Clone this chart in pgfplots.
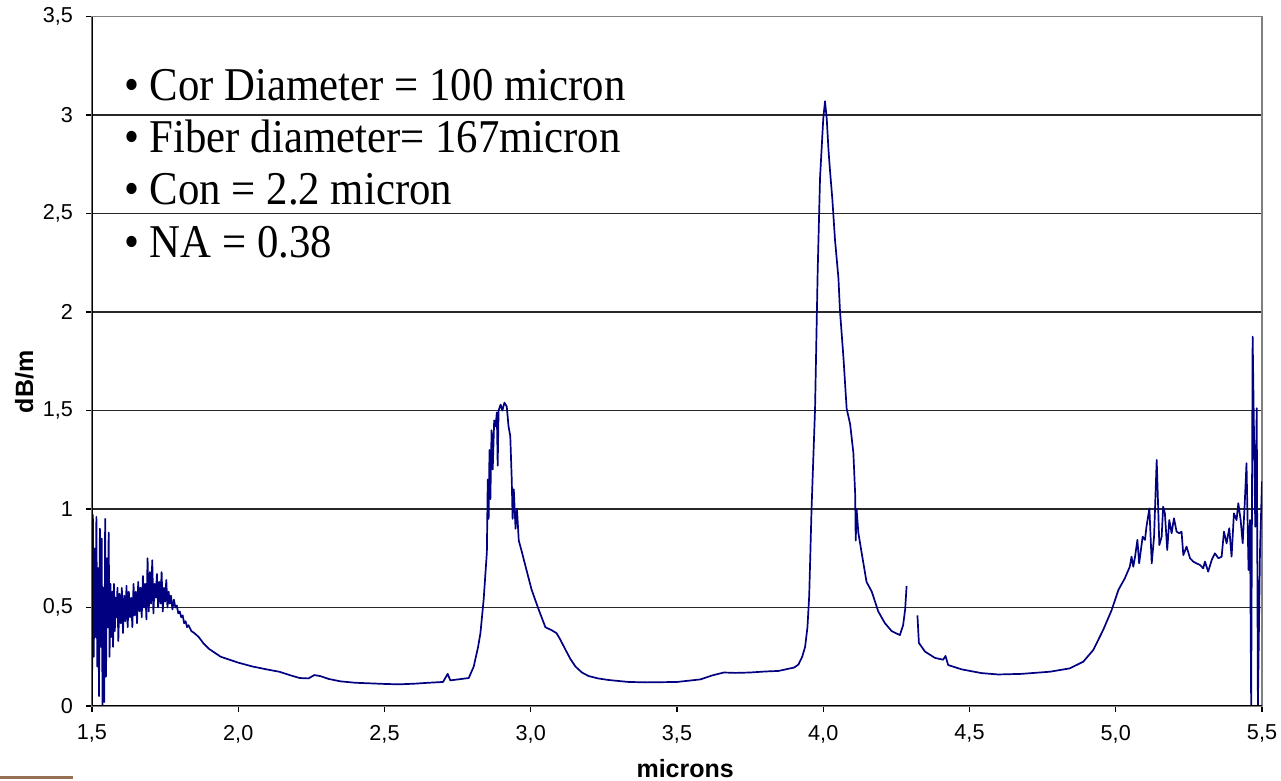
\documentclass[border=0pt]{standalone}
\usepackage{pgfplots}
\pgfplotsset{compat=1.18}
\usepackage{fontspec}
\setmainfont{Liberation Sans}
\newfontfamily\tnr[FakeStretch=0.91]{Liberation Serif}
\definecolor{navyline}{RGB}{0,0,128}
\definecolor{gridc}{RGB}{40,40,40}
\definecolor{brownbar}{RGB}{150,112,84}
\begin{document}
\begin{tikzpicture}
\useasboundingbox (-46pt,-37.5pt) rectangle (594.5pt,353pt);
\begin{axis}[at={(0,0)}, anchor=south west, scale only axis,
  width=585pt, height=344.75pt,
  xmin=1.5, xmax=5.5, ymin=0, ymax=3.5,
  xtick={1.5,2.0,2.5,3.0,3.5,4.0,4.5,5.0,5.5},
  xticklabels={{1,5},{2,0},{2,5},{3,0},{3,5},{4,0},{4,5},{5,0},{5,5}},
  ytick={0,0.5,1,1.5,2,2.5,3,3.5},
  yticklabels={0,{0,5},1,{1,5},2,{2,5},3,{3,5}},
  ymajorgrids, major grid style={gridc, line width=0.6pt},
  axis line style={draw=gray, line width=0.8pt},
  tick align=outside, xtick pos=left, ytick pos=left,
  major tick length=3pt, tick style={black, line width=0.6pt},
  tick label style={font=\fontsize{10.8}{13}\selectfont},
  xticklabel style={yshift=-3pt},
  yticklabel style={xshift=-3pt},
  xlabel={microns}, ylabel={dB/m},
  every axis x label/.style={at={(axis description cs:0.507,-0.1044)}, anchor=base, font=\bfseries\fontsize{12.5}{15}\selectfont},
  every axis y label/.style={at={(axis description cs:-0.0504,0.47)}, rotate=90, anchor=base, font=\bfseries\fontsize{12.5}{15}\selectfont},
  clip=true]
\addplot[navyline, line width=0.85pt, line join=round] coordinates {
(1.500,0.02)(1.503,0.97)(1.506,0.25)(1.509,0.80)(1.512,0.35)(1.515,0.96)(1.518,0.20)(1.521,0.70)
(1.524,0.05)(1.527,0.90)(1.530,0.30)(1.533,0.85)(1.536,0.00)(1.539,0.60)(1.542,0.02)(1.545,0.95)
(1.548,0.15)(1.551,0.75)(1.554,0.40)(1.557,0.88)(1.560,0.25)(1.563,0.62)(1.566,0.35)(1.569,0.58)
(1.572,0.30)(1.575,0.62)(1.578,0.38)(1.581,0.55)(1.584,0.45)(1.587,0.60)(1.590,0.33)(1.594,0.57)
(1.598,0.42)(1.602,0.60)(1.606,0.37)(1.610,0.56)(1.614,0.43)(1.618,0.61)(1.622,0.40)(1.626,0.58)
(1.630,0.45)(1.634,0.55)(1.638,0.40)(1.642,0.62)(1.646,0.46)(1.650,0.58)(1.654,0.42)(1.658,0.63)
(1.662,0.48)(1.666,0.60)(1.670,0.45)(1.674,0.66)(1.678,0.50)(1.682,0.62)(1.686,0.44)(1.690,0.75)
(1.694,0.48)(1.698,0.68)(1.702,0.52)(1.706,0.74)(1.710,0.47)(1.714,0.62)(1.718,0.55)(1.722,0.67)
(1.726,0.50)(1.730,0.63)(1.734,0.52)(1.738,0.68)(1.742,0.48)(1.746,0.60)(1.750,0.53)(1.754,0.64)
(1.758,0.50)(1.762,0.58)(1.766,0.52)(1.770,0.56)(1.775,0.49)(1.780,0.54)(1.785,0.50)(1.790,0.51)
(1.795,0.47)(1.800,0.48)(1.805,0.45)(1.810,0.46)(1.815,0.42)(1.820,0.43)(1.825,0.40)(1.830,0.41)
(1.840,0.38)(1.850,0.37)(1.865,0.35)(1.880,0.32)(1.900,0.29)(1.920,0.27)(1.940,0.25)(1.960,0.24)
(1.980,0.23)(2.000,0.22)(2.050,0.20)(2.100,0.185)(2.140,0.174)(2.180,0.155)(2.210,0.142)(2.240,0.140)
(2.260,0.157)(2.280,0.152)(2.310,0.137)(2.350,0.125)(2.400,0.118)(2.450,0.115)(2.500,0.112)(2.550,0.110)
(2.600,0.113)(2.651,0.118)(2.700,0.122)(2.716,0.163)(2.725,0.130)(2.788,0.142)(2.805,0.20)(2.820,0.30)
(2.828,0.37)(2.839,0.54)(2.850,0.78)(2.853,1.15)(2.856,0.95)(2.859,1.30)(2.862,1.05)(2.866,1.40)
(2.870,1.20)(2.875,1.45)(2.880,1.42)(2.884,1.49)(2.887,1.22)(2.890,1.50)(2.897,1.53)(2.903,1.50)
(2.910,1.54)(2.918,1.52)(2.924,1.42)(2.930,1.37)(2.935,1.15)(2.938,0.95)(2.942,1.10)(2.948,0.90)
(2.953,1.00)(2.959,0.84)(2.970,0.78)(2.982,0.71)(3.003,0.59)(3.027,0.49)(3.050,0.40)(3.071,0.385)
(3.088,0.37)(3.100,0.34)(3.119,0.285)(3.135,0.24)(3.153,0.20)(3.175,0.17)(3.198,0.152)(3.230,0.14)
(3.266,0.132)(3.334,0.122)(3.400,0.120)(3.500,0.122)(3.580,0.135)(3.620,0.155)(3.660,0.170)
(3.700,0.168)(3.750,0.170)(3.800,0.175)(3.847,0.178)(3.900,0.195)(3.915,0.21)(3.928,0.25)(3.938,0.30)
(3.946,0.40)(3.952,0.56)(3.960,1.00)(3.972,1.51)(3.981,2.21)(3.989,2.68)(4.000,2.98)(4.006,3.07)
(4.012,2.98)(4.018,2.82)(4.023,2.72)(4.031,2.575)(4.040,2.37)(4.052,2.17)(4.057,2.01)(4.069,1.77)
(4.080,1.51)(4.092,1.43)(4.103,1.285)(4.109,1.08)(4.111,0.84)(4.114,1.00)(4.120,0.88)(4.131,0.78)
(4.148,0.63)(4.166,0.58)(4.188,0.48)(4.211,0.42)(4.234,0.38)(4.262,0.36)(4.273,0.41)(4.280,0.49)
(4.285,0.61)
};
\addplot[navyline, line width=0.85pt, line join=round] coordinates {
(4.322,0.46)(4.327,0.32)(4.348,0.276)(4.382,0.244)(4.410,0.235)(4.418,0.254)(4.427,0.208)(4.473,0.186)
(4.541,0.167)(4.598,0.160)(4.677,0.163)(4.775,0.174)(4.843,0.191)(4.889,0.225)(4.923,0.284)(4.957,0.386)
(4.986,0.487)(5.009,0.589)(5.031,0.648)(5.048,0.707)(5.054,0.758)(5.060,0.707)(5.066,0.758)(5.074,0.843)
(5.080,0.724)(5.092,0.860)(5.100,0.843)(5.105,0.910)(5.115,1.003)(5.123,0.724)(5.131,0.860)(5.140,1.249)
(5.149,0.817)(5.157,0.860)(5.162,1.012)(5.168,0.978)(5.176,0.792)(5.183,0.944)(5.191,0.877)(5.199,0.953)
(5.208,0.885)(5.217,0.877)(5.225,0.885)(5.231,0.766)(5.242,0.809)(5.254,0.750)(5.265,0.733)(5.276,0.724)
(5.288,0.716)(5.299,0.699)(5.305,0.733)(5.316,0.682)(5.328,0.741)(5.339,0.775)(5.351,0.750)(5.362,0.758)
(5.370,0.885)(5.379,0.826)(5.388,0.902)(5.396,0.758)(5.404,0.978)(5.413,0.944)(5.419,1.029)(5.427,0.944)
(5.434,0.826)(5.441,1.029)(5.447,1.232)(5.454,0.690)(5.459,0.944)(5.463,0.000)(5.468,1.875)(5.472,1.452)
(5.477,0.910)(5.482,1.511)(5.486,0.000)(5.493,0.775)(5.500,1.14)
};
\draw[black, line width=0.8pt] (rel axis cs:0,1) -- (rel axis cs:0,0) -- (rel axis cs:1,0);
\node[anchor=base west, inner sep=0pt, font=\tnr\fontsize{23.5}{28}\selectfont] at (axis cs:1.609,3.076) {• Cor Diameter = 100 micron};
\node[anchor=base west, inner sep=0pt, font=\tnr\fontsize{23.5}{28}\selectfont] at (axis cs:1.609,2.812) {• Fiber diameter= 167micron};
\node[anchor=base west, inner sep=0pt, font=\tnr\fontsize{23.5}{28}\selectfont] at (axis cs:1.609,2.546) {• Con = 2.2 micron};
\node[anchor=base west, inner sep=0pt, font=\tnr\fontsize{23.5}{28}\selectfont] at (axis cs:1.609,2.279) {• NA = 0.38};
\end{axis}
\draw[brownbar, line width=1.5pt] (-46pt,-36pt) -- (-9.5pt,-36pt);
\end{tikzpicture}
\end{document}
